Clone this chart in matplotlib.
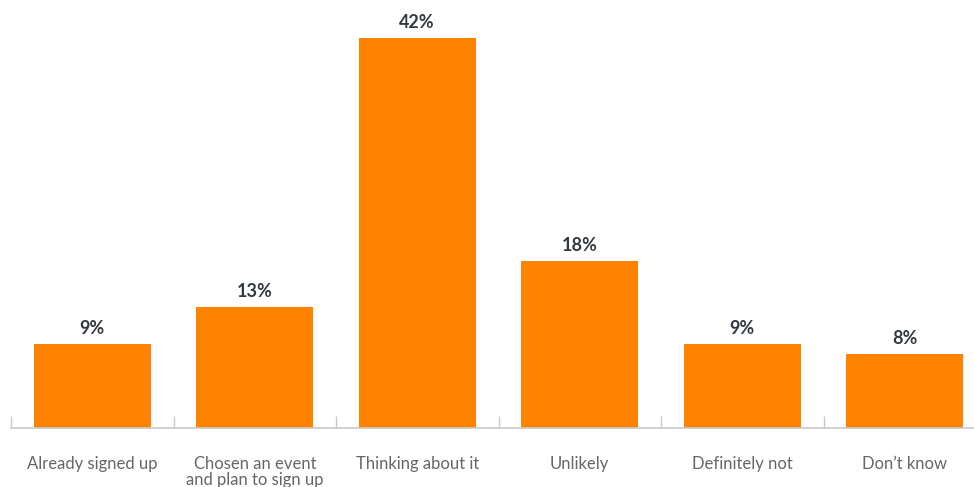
import matplotlib
matplotlib.use("Agg")
import matplotlib.pyplot as plt
import numpy as np

categories = ["Already signed up", "Chosen an event\nand plan to sign up", "Thinking about it",
              "Unlikely", "Definitely not", "Don\u2019t know"]
values = [9, 13, 42, 18, 9, 8]
value_labels = ["9%", "13%", "42%", "18%", "9%", "8%"]

BAR_COLOR = "#FF8300"
AXIS_COLOR = "#c9c9c9"
LABEL_COLOR = "#666666"
VALUE_COLOR = "#333940"

fig = plt.figure(figsize=(9.74, 4.87), dpi=100)
W, H = 974, 487
ax = fig.add_axes([11 / W, 59 / H, 975 / W, 428 / H])

x = np.arange(len(categories))
ax.bar(x, values, width=0.72, color=BAR_COLOR)
for xi, v, lab in zip(x, values, value_labels):
    ax.annotate(lab, (xi, v), xytext=(0, 5), textcoords="offset points",
                ha="center", va="bottom", fontsize=13, fontweight="bold",
                color=VALUE_COLOR, family="Lato")

ax.set_xlim(-0.5, len(categories) - 0.5)
ax.set_ylim(0, 46.09)

for side in ["top", "right", "left"]:
    ax.spines[side].set_visible(False)
ax.spines["bottom"].set_color(AXIS_COLOR)
ax.spines["bottom"].set_linewidth(1.2)
ax.set_yticks([])

ax.set_xticks(x)
ax.set_xticklabels(categories, fontsize=12, color=LABEL_COLOR, family="Lato",
                   va="top", linespacing=1.05)
ax.tick_params(axis="x", which="major", length=0, pad=20)
ax.set_xticks(np.arange(len(categories) + 1) - 0.5, minor=True)
ax.tick_params(axis="x", which="minor", direction="in", length=8.6,
               width=1.0, color=AXIS_COLOR)

fig.savefig("out.png", dpi=100)
